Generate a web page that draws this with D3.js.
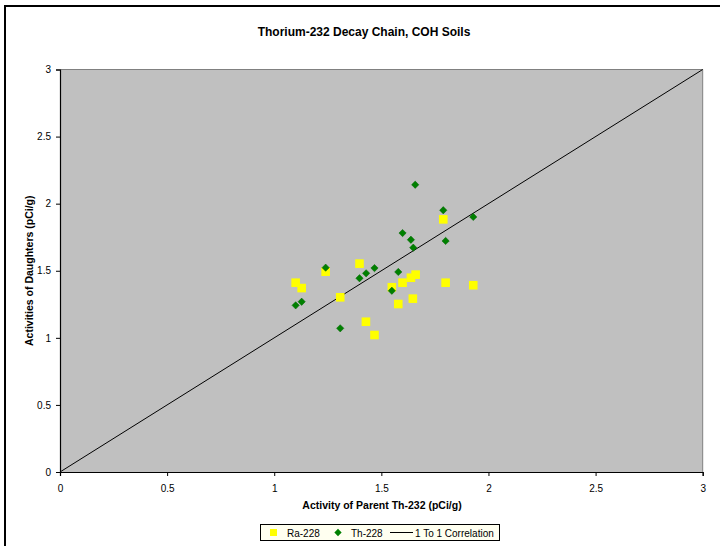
<!DOCTYPE html>
<html><head><meta charset="utf-8">
<script src="https://cdn.jsdelivr.net/npm/d3@7"></script>
<style>body{margin:0;background:#fff}svg{display:block}text{font-family:"Liberation Sans",Arial,sans-serif}</style>
</head><body><svg id="c" width="720" height="546"></svg>
<script>
const parentTh232 = [1.10,1.128,1.24,1.308,1.398,1.428,1.468,1.549,1.579,1.599,1.638,1.66,1.647,1.789,1.80,1.929];
const ra228 = [1.411,1.371,1.493,1.302,1.553,1.12,1.021,1.377,1.252,1.411,1.448,1.471,1.292,1.883,1.411,1.392];
const thParent = [1.10,1.128,1.24,1.308,1.398,1.429,1.468,1.549,1.579,1.599,1.638,1.649,1.658,1.789,1.80,1.929];
const th228 = [1.242,1.269,1.523,1.071,1.444,1.481,1.52,1.351,1.491,1.781,1.731,1.672,2.141,1.951,1.722,1.901];
const corrLine = [[0,0],[3,3]];
const tickVals = [0,0.5,1,1.5,2,2.5,3];
const tickLabels = ["0","0.5","1","1.5","2","2.5","3"];
const seriesNames = ["Ra-228","Th-228","1 To 1 Correlation"];

const svg = d3.select("#c");
// outer chart border (right/bottom fall outside the picture)
svg.append("path").attr("d","M5,560 V6 H740").attr("fill","none").attr("stroke","#000").attr("stroke-width",2);

const L=60,R=702.7,T=69.5,B=472;
const x = d3.scaleLinear().domain([0,3]).range([L,R]);
const y = d3.scaleLinear().domain([0,3]).range([B,T]);

svg.append("rect").attr("x",L).attr("y",T).attr("width",R-L).attr("height",B-T).attr("fill","#c0c0c0");
svg.append("path").attr("d",`M${L},${T} H${R} V${B}`).attr("fill","none").attr("stroke","#808080").attr("stroke-width",1);

const fmt = (d)=>tickLabels[tickVals.indexOf(d)];
const xAx = svg.append("g").attr("transform",`translate(0,${B})`)
  .call(d3.axisBottom(x).tickValues(tickVals).tickFormat(fmt).tickSize(4).tickPadding(9));
const yAx = svg.append("g").attr("transform",`translate(${L},0)`)
  .call(d3.axisLeft(y).tickValues(tickVals).tickFormat(fmt).tickSize(4).tickPadding(5));
[xAx,yAx].forEach(g=>{
  g.select(".domain").attr("stroke","#000").attr("stroke-width",1.2);
  g.selectAll(".tick line").attr("stroke","#000");
  g.selectAll("text").attr("font-size",10).attr("fill","#000").attr("font-family","Liberation Sans, Arial, sans-serif");
});

// 1:1 line
svg.append("path").datum(corrLine)
  .attr("d",d3.line().x(d=>x(d[0])).y(d=>y(d[1])))
  .attr("stroke","#000").attr("stroke-width",1).attr("fill","none");

// Ra-228 squares
svg.append("g").selectAll("rect").data(ra228).join("rect")
  .attr("x",(d,i)=>x(parentTh232[i])-4.3).attr("y",d=>y(d)-4.3)
  .attr("width",8.6).attr("height",8.6).attr("fill","#ffff00");
// Th-228 diamonds
const dia = d3.symbol().type(d3.symbolDiamond2).size(34);
svg.append("g").selectAll("path").data(th228).join("path")
  .attr("d",dia).attr("transform",(d,i)=>`translate(${x(thParent[i])},${y(d)})`)
  .attr("fill","#008000").attr("stroke","#006400").attr("stroke-width",0.5);

// titles
svg.append("text").attr("x",364).attr("y",36).attr("text-anchor","middle")
  .attr("font-size",12).attr("font-weight","bold").text("Thorium-232 Decay Chain, COH Soils");
svg.append("text").attr("x",382).attr("y",509).attr("text-anchor","middle")
  .attr("font-size",10.5).attr("font-weight","bold").text("Activity of Parent Th-232 (pCi/g)");
svg.append("text").attr("transform",`translate(33,${(T+B)/2}) rotate(-90)`).attr("text-anchor","middle")
  .attr("font-size",10.5).attr("font-weight","bold").text("Activities of Daughters (pCi/g)");

// legend
const lg = svg.append("g");
lg.append("rect").attr("x",260.5).attr("y",524.5).attr("width",239).attr("height",16)
  .attr("fill","#fffff0").attr("stroke","#000").attr("stroke-width",1);
lg.append("rect").attr("x",270).attr("y",529).attr("width",7).attr("height",7).attr("fill","#ffff00");
lg.append("path").attr("d",dia).attr("transform","translate(338,532.5)").attr("fill","#008000");
lg.append("line").attr("x1",390).attr("x2",413).attr("y1",532.5).attr("y2",532.5).attr("stroke","#000");
const lx=[287,351,415];
seriesNames.forEach((n,i)=>lg.append("text").attr("x",lx[i]).attr("y",536.5).attr("font-size",10).text(n));
</script></body></html>
